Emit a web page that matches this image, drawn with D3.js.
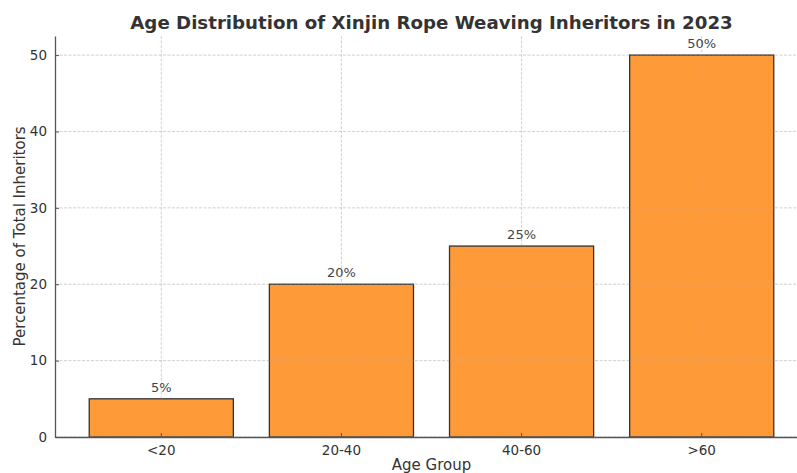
<!DOCTYPE html>
<html>
<head>
<meta charset="utf-8">
<script src="https://cdn.jsdelivr.net/npm/d3@7"></script>
<style>
  body { margin: 0; background: #fff; }
  text { font-family: "DejaVu Sans", sans-serif; }
</style>
</head>
<body>
<div id="chart"></div>
<script>
// Data
var ageGroups = ["<20", "20-40", "40-60", ">60"];
var percentages = [5, 20, 25, 50];
var yTicks = [0, 10, 20, 30, 40, 50];

// Plot area (right side runs past the window, as in the original)
var margin = {top: 36, left: 55},
    plotRight = 808,
    plotBottom = 437;

var svg = d3.select("#chart").append("svg")
    .attr("width", 797)
    .attr("height", 473);

var x = d3.scaleBand()
    .domain(ageGroups)
    .range([margin.left, plotRight])
    .paddingInner(0.2)
    .paddingOuter(0.19);

var y = d3.scaleLinear()
    .domain([0, 52.5])
    .range([plotBottom, margin.top]);

// Grid lines, drawn once under the bars and once faintly on top
function drawGrid(color, opacity) {
  var g = svg.append("g");
  g.selectAll(".hgrid")
      .data(yTicks)
    .enter().append("line")
      .attr("x1", margin.left).attr("x2", plotRight)
      .attr("y1", function(d) { return y(d); })
      .attr("y2", function(d) { return y(d); });
  g.selectAll(".vgrid")
      .data(ageGroups)
    .enter().append("line")
      .attr("x1", function(d) { return x(d) + x.bandwidth() / 2; })
      .attr("x2", function(d) { return x(d) + x.bandwidth() / 2; })
      .attr("y1", margin.top).attr("y2", plotBottom);
  g.selectAll("line")
      .attr("stroke", color)
      .attr("stroke-opacity", opacity)
      .attr("stroke-width", 0.7)
      .attr("stroke-dasharray", "3,1.5");
}

drawGrid("#d8d8d8", 1);

// Bars
svg.selectAll(".bar")
    .data(percentages)
  .enter().append("rect")
    .attr("class", "bar")
    .attr("x", function(d, i) { return x(ageGroups[i]); })
    .attr("width", x.bandwidth())
    .attr("y", function(d) { return y(d); })
    .attr("height", function(d) { return plotBottom - y(d); })
    .attr("fill", "#fe9a37")
    .attr("stroke", "#333")
    .attr("stroke-width", 1.3);

drawGrid("#b0b0b0", 0.45);

// Value labels
svg.selectAll(".label")
    .data(percentages)
  .enter().append("text")
    .attr("x", function(d, i) { return x(ageGroups[i]) + x.bandwidth() / 2; })
    .attr("y", function(d) { return y(d) - 7; })
    .attr("text-anchor", "middle")
    .attr("font-size", 13)
    .attr("fill", "#444")
    .text(function(d) { return d + "%"; });

// Axes
var xAxis = svg.append("g")
    .attr("transform", "translate(0," + plotBottom + ")")
    .call(d3.axisBottom(x).tickSizeInner(-4).tickSizeOuter(0).tickPadding(8));

var yAxis = svg.append("g")
    .attr("transform", "translate(" + margin.left + ",0)")
    .call(d3.axisLeft(y).tickValues(yTicks).tickSizeInner(-4).tickSizeOuter(0).tickPadding(8));

[xAxis, yAxis].forEach(function(a) {
  a.select(".domain").attr("stroke", "#555").attr("stroke-width", 1.3);
  a.selectAll(".tick line").attr("stroke", "#555");
  a.selectAll(".tick text")
    .attr("font-family", "DejaVu Sans, sans-serif")
    .attr("font-size", 13.5)
    .attr("fill", "#333");
});

// Title
svg.append("text")
    .attr("x", (margin.left + plotRight) / 2)
    .attr("y", 29)
    .attr("text-anchor", "middle")
    .attr("font-size", 18.2)
    .attr("font-weight", "bold")
    .attr("fill", "#333")
    .text("Age Distribution of Xinjin Rope Weaving Inheritors in 2023");

// Axis labels
svg.append("text")
    .attr("x", (margin.left + plotRight) / 2)
    .attr("y", 470)
    .attr("text-anchor", "middle")
    .attr("font-size", 15)
    .attr("fill", "#333")
    .text("Age Group");

svg.append("text")
    .attr("transform", "rotate(-90)")
    .attr("x", -(margin.top + plotBottom) / 2)
    .attr("y", 25)
    .attr("text-anchor", "middle")
    .attr("font-size", 15)
    .attr("fill", "#333")
    .text("Percentage of Total Inheritors");
</script>
</body>
</html>
